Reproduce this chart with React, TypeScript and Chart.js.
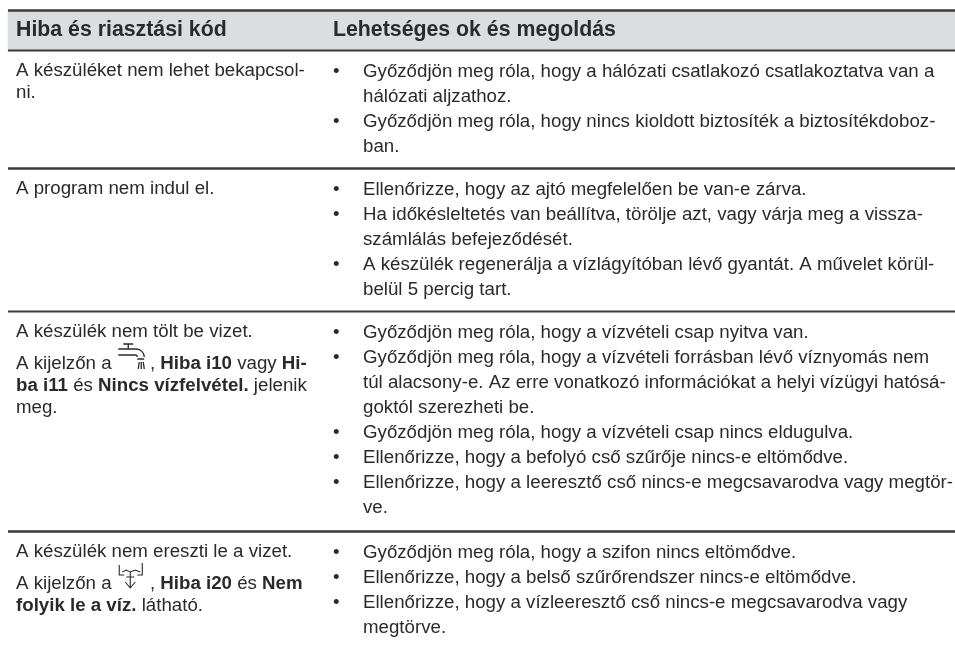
import { useEffect, useRef } from "react";
import { Chart, registerables } from "chart.js";

Chart.register(...registerables);

type Run = { t: string; b?: boolean } | { icon: "tap" | "drain" };
type Line = Run[];

const headers = ["Hiba és riasztási kód", "Lehetséges ok és megoldás"];

const leftCells: Line[][] = [
  [[{ t: "A készüléket nem lehet bekapcsol-" }], [{ t: "ni." }]],
  [[{ t: "A program nem indul el." }]],
  [
    [{ t: "A készülék nem tölt be vizet." }],
    [{ t: "A kijelzőn a " }, { icon: "tap" }, { t: " , " }, { t: "Hiba i10", b: true }, { t: " vagy " }, { t: "Hi-", b: true }],
    [{ t: "ba i11", b: true }, { t: " és " }, { t: "Nincs vízfelvétel.", b: true }, { t: " jelenik" }],
    [{ t: "meg." }],
  ],
  [
    [{ t: "A készülék nem ereszti le a vizet." }],
    [{ t: "A kijelzőn a " }, { icon: "drain" }, { t: " , " }, { t: "Hiba i20", b: true }, { t: " és " }, { t: "Nem", b: true }],
    [{ t: "folyik le a víz.", b: true }, { t: " látható." }],
  ],
];

const rightCells: string[][][] = [
  [
    ["Győződjön meg róla, hogy a hálózati csatlakozó csatlakoztatva van a", "hálózati aljzathoz."],
    ["Győződjön meg róla, hogy nincs kioldott biztosíték a biztosítékdoboz-", "ban."],
  ],
  [
    ["Ellenőrizze, hogy az ajtó megfelelően be van-e zárva."],
    ["Ha időkésleltetés van beállítva, törölje azt, vagy várja meg a vissza-", "számlálás befejeződését."],
    ["A készülék regenerálja a vízlágyítóban lévő gyantát. A művelet körül-", "belül 5 percig tart."],
  ],
  [
    ["Győződjön meg róla, hogy a vízvételi csap nyitva van."],
    ["Győződjön meg róla, hogy a vízvételi forrásban lévő víznyomás nem", "túl alacsony-e. Az erre vonatkozó információkat a helyi vízügyi hatósá-", "goktól szerezheti be."],
    ["Győződjön meg róla, hogy a vízvételi csap nincs eldugulva."],
    ["Ellenőrizze, hogy a befolyó cső szűrője nincs-e eltömődve."],
    ["Ellenőrizze, hogy a leeresztő cső nincs-e megcsavarodva vagy megtör-", "ve."],
  ],
  [
    ["Győződjön meg róla, hogy a szifon nincs eltömődve."],
    ["Ellenőrizze, hogy a belső szűrőrendszer nincs-e eltömődve."],
    ["Ellenőrizze, hogy a vízleeresztő cső nincs-e megcsavarodva vagy", "megtörve."],
  ],
];

const ruleRows = [10.5, 50.5, 168.5, 311.5, 531.5];
const ruleWeights = [2.5, 2, 2.5, 2, 2.5];
const LEFT = 8;
const RIGHT = 955;
const COL1 = 16;
const COL2 = 333;
const COL2_TEXT = 363;
const FAMILY = '"Liberation Sans", Arial, sans-serif';
const BODY = 18.7;
const HEAD = 21.3;
const LEAD = 25.1;
const LEFT_LEAD = 22;
const LEFT_PARA = 10.5;
const FIRST = 26;
const LEFT_FIRST = 25;
const INK = "#2b2a2b";

function drawIcon(c: CanvasRenderingContext2D, kind: string, x: number, y: number) {
  c.save();
  c.strokeStyle = INK;
  c.lineWidth = kind === "tap" ? 1.3 : 1.1;
  c.beginPath();
  if (kind === "tap") {
    c.moveTo(x + 5, y - 25); c.lineTo(x + 15, y - 25);
    c.moveTo(x + 10, y - 25); c.lineTo(x + 10, y - 20);
    c.moveTo(x, y - 20); c.lineTo(x + 18, y - 20);
    c.arc(x + 18, y - 12, 8, -Math.PI / 2, 0);
    c.moveTo(x, y - 14); c.lineTo(x + 17, y - 14);
    c.arc(x + 17, y - 12, 2, -Math.PI / 2, 0);
    c.moveTo(x + 19, y - 10); c.lineTo(x + 26, y - 10);
    c.moveTo(x + 20, y); c.lineTo(x + 21, y - 7);
    c.moveTo(x + 23, y); c.lineTo(x + 23, y - 7);
    c.moveTo(x + 26, y); c.lineTo(x + 25, y - 7);
  } else {
    c.moveTo(x + 1, y - 24); c.lineTo(x + 1, y - 14); c.lineTo(x + 6, y - 14);
    c.moveTo(x + 24, y - 26); c.lineTo(x + 24, y - 14); c.lineTo(x + 19, y - 14);
    c.moveTo(x + 4, y - 17); c.lineTo(x + 8, y - 19); c.lineTo(x + 12, y - 17); c.lineTo(x + 17, y - 19); c.lineTo(x + 22, y - 17);
    c.moveTo(x + 8, y - 12); c.lineTo(x + 16, y - 12);
    c.moveTo(x + 12, y - 17); c.lineTo(x + 12, y - 1);
    c.moveTo(x + 7, y - 7); c.lineTo(x + 12, y - 1); c.lineTo(x + 17, y - 7);
  }
  c.stroke();
  c.restore();
}

const tablePlugin = {
  id: "tableText",
  afterDatasetsDraw(chart: any) {
    const c: CanvasRenderingContext2D = chart.ctx;
    const sx = chart.scales.x;
    const sy = chart.scales.y;
    const px = (v: number) => sx.getPixelForValue(v);
    const py = (v: number) => sy.getPixelForValue(v);
    c.save();
    c.textBaseline = "alphabetic";
    c.textAlign = "left";
    c.fillStyle = INK;
    c.font = `bold ${HEAD}px ${FAMILY}`;
    c.fillText(headers[0], px(COL1), py(36));
    c.fillText(headers[1], px(COL2), py(36));

    leftCells.forEach((cell, i) => {
      let y = ruleRows[i + 1] + LEFT_FIRST;
      cell.forEach((line, li) => {
        let x = COL1;
        line.forEach((run) => {
          if ("icon" in run) {
            drawIcon(c, run.icon, px(x + 1.5), py(y));
            x += 28;
          } else {
            c.font = `${run.b ? "bold " : ""}${BODY}px ${FAMILY}`;
            c.fillText(run.t, px(x), py(y));
            x += c.measureText(run.t).width;
          }
        });
        y += LEFT_LEAD + (li === 0 && cell.length > 2 ? LEFT_PARA : 0);
      });
    });

    c.font = `${BODY}px ${FAMILY}`;
    rightCells.forEach((cell, i) => {
      let y = ruleRows[i + 1] + FIRST;
      cell.forEach((item) => {
        c.fillText("•", px(COL2), py(y));
        item.forEach((line) => {
          c.fillText(line, px(COL2_TEXT), py(y));
          y += LEAD;
        });
      });
    });
    c.restore();
  },
};

export default function App() {
  const ref = useRef<HTMLCanvasElement>(null);
  useEffect(() => {
    const chart = new Chart(ref.current!, {
      type: "bar",
      plugins: [tablePlugin],
      data: {
        datasets: [
          {
            type: "bar",
            order: 2,
            data: [{ x: (LEFT + RIGHT) / 2, y: [ruleRows[0], ruleRows[1]] }] as any,
            backgroundColor: "#dcddde",
            barThickness: RIGHT - LEFT,
            borderWidth: 0,
          },
          ...ruleRows.map((r, i) => ({
            type: "line" as const,
            order: 1,
            data: [{ x: LEFT, y: r }, { x: RIGHT, y: r }],
            borderColor: "#3a3a3c",
            borderWidth: ruleWeights[i],
            pointRadius: 0,
          })),
        ],
      },
      options: {
        animation: false,
        responsive: false,
        layout: { padding: 0 },
        plugins: { legend: { display: false }, tooltip: { enabled: false } },
        scales: {
          x: { type: "linear", min: 0, max: 955, display: false, offset: false },
          y: { type: "linear", min: 0, max: 645, reverse: true, display: false },
        },
      },
    });
    return () => chart.destroy();
  }, []);
  return (
    <div style={{ position: "fixed", left: 0, top: 0, width: 955, height: 645, background: "#fff" }}>
      <canvas ref={ref} width={955} height={645} style={{ display: "block" }} />
    </div>
  );
}
